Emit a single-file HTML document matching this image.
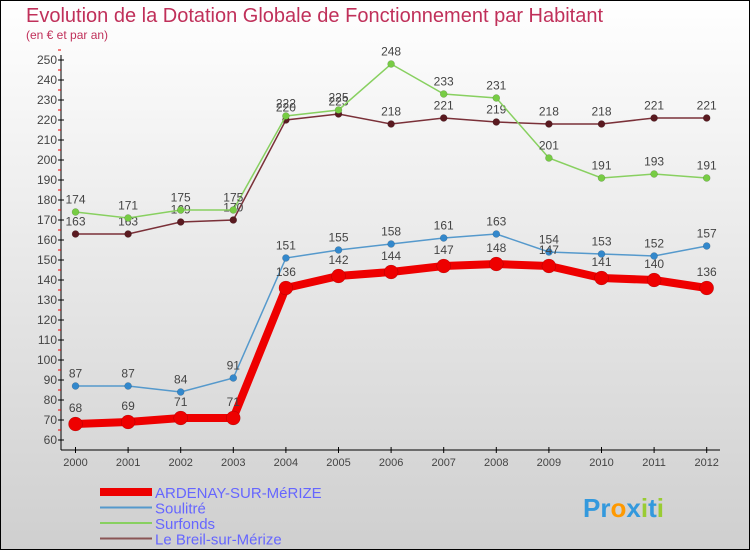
<!DOCTYPE html>
<html><head><meta charset="utf-8"><style>
body{margin:0}
svg{display:block;font-family:"Liberation Sans",sans-serif}
</style></head><body>
<svg id="c" width="750" height="550" xmlns="http://www.w3.org/2000/svg">
<defs><linearGradient id="bg" x1="0" y1="0" x2="0" y2="1"><stop offset="0" stop-color="#ffffff"/><stop offset="1" stop-color="#cfcfcf"/></linearGradient></defs>
<rect x="0.5" y="0.5" width="749" height="549" fill="url(#bg)" stroke="#000"/>
<text x="26" y="22" font-size="20" fill="#c0305a">Evolution de la Dotation Globale de Fonctionnement par Habitant</text>
<text x="26" y="39" font-size="12" fill="#c0305a">(en € et par an)</text>
<g id="axes"></g><g id="series"></g><g id="legend"></g>
<text x="583" y="517" font-size="26" font-weight="bold"><tspan fill="#3399dd">Pr</tspan><tspan fill="#ff9900">o</tspan><tspan fill="#3399dd">x</tspan><tspan fill="#99cc33">i</tspan><tspan fill="#3399dd">t</tspan><tspan fill="#99cc33">i</tspan></text>
</svg>
<script>
const years=[2000,2001,2002,2003,2004,2005,2006,2007,2008,2009,2010,2011,2012];
const ardenay=[68,69,71,71,136,142,144,147,148,147,141,140,136];
const soulitre=[87,87,84,91,151,155,158,161,163,154,153,152,157];
const surfonds=[174,171,175,175,222,225,248,233,231,201,191,193,191];
const breil=[163,163,169,170,220,223,218,221,219,218,218,221,221];
const yTicks=[60,70,80,90,100,110,120,130,140,150,160,170,180,190,200,210,220,230,240,250];
const NS="http://www.w3.org/2000/svg";
const X=i=>75.5+i*52.6, Y=v=>440-(v-60)*2;
function mk(t,a,p){const e=document.createElementNS(NS,t);for(const k in a)e.setAttribute(k,a[k]);p.appendChild(e);return e;}
const ax=document.getElementById('axes');
const yl=mk('line',{x1:61,y1:55,x2:61,y2:450,stroke:'#000'},ax);


const xl=mk('line',{x1:61,y1:450,x2:720,y2:450,stroke:'#000'},ax);


yTicks.forEach(v=>{
 mk('line',{x1:58,y1:Y(v),x2:64,y2:Y(v),stroke:'#000'},ax);
 mk('line',{x1:58,y1:Y(v+5),x2:61,y2:Y(v+5),stroke:'#e00'},ax);
 const t=mk('text',{x:57,y:Y(v)+4,'font-size':12,'text-anchor':'end',fill:'#444'},ax);t.textContent=v;
 
 
});
years.forEach((y,i)=>{
 mk('line',{x1:X(i),y1:447,x2:X(i),y2:453,stroke:'#000'},ax);
 const t=mk('text',{x:X(i),y:466,'font-size':11,'text-anchor':'middle',fill:'#444'},ax);t.textContent=y;
 
 
});
const sg=document.getElementById('series');
function series(d,col,dot,w,r,name){
 const g=mk('g',{},sg);
 
 
 mk('polyline',{points:d.map((v,i)=>X(i)+','+Y(v)).join(' '),fill:'none',stroke:col,'stroke-width':w},g);
 d.forEach((v,i)=>{
  const c=mk('circle',{cx:X(i),cy:Y(v),r:r,fill:dot,stroke:'rgba(0,0,0,0.25)','stroke-width':0.5},g);
  
  
  const t=mk('text',{x:X(i),y:Y(v)-(r+5),'font-size':12,'text-anchor':'middle',fill:'#444'},g);t.textContent=v;
 });
}
series(breil,'#7a3038','#5a1a20',1.5,3.5,'series-le-breil');
series(surfonds,'#88d060','#77cc44',1.5,3.5,'series-surfonds');
series(soulitre,'#5599cc','#3388cc',1.5,3.5,'series-soulitre');
series(ardenay,'#ee0000','#ee0000',8,7,'series-ardenay');
const lg=document.getElementById('legend');
const items=[['ARDENAY-SUR-MéRIZE','#ee0000',8],['Soulitré','#5599cc',2],['Surfonds','#88d060',2],['Le Breil-sur-Mérize','#8a5555',2]];
items.forEach((it,i)=>{
 const y=492+i*15.5;
 const g=mk('g',{},lg);
 
 
 mk('line',{x1:100,y1:y,x2:152,y2:y,stroke:it[1],'stroke-width':it[2]},g);
 const t=mk('text',{x:155,y:y+6,'font-size':15,fill:'#6666ff'},g);t.textContent=it[0];
});
</script>
</body></html>
